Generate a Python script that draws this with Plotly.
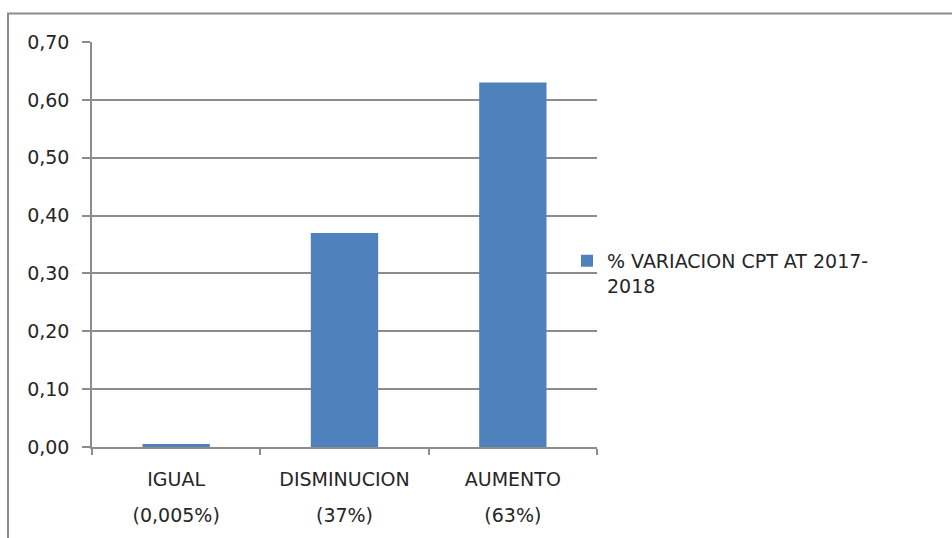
import plotly.graph_objects as go

categories = ["IGUAL", "DISMINUCION", "AUMENTO"]
category_pct = ["(0,005%)", "(37%)", "(63%)"]
values = [0.005, 0.37, 0.63]
series_name = "% VARIACION CPT AT 2017-<br>2018"
y_ticks = [0, 0.1, 0.2, 0.3, 0.4, 0.5, 0.6, 0.7]

FONT = "DejaVu Sans"
FS = 19
TXT = "#262626"
GRID = "#8c8c8c"

fig = go.Figure()
fig.add_trace(go.Bar(
    x=categories, y=values, name=series_name,
    marker=dict(color="#4F81BD", line=dict(width=0)),
    width=0.4, showlegend=True,
))
# helper trace carrying the second line of each category label
fig.add_trace(go.Scatter(
    x=list(range(len(category_pct))), y=[None] * len(category_pct),
    xaxis="x2", showlegend=False, hoverinfo="skip", mode="markers",
))

fig.update_layout(
    width=952, height=538,
    margin=dict(l=92, r=355, t=41.5, b=91.3),
    paper_bgcolor="white", plot_bgcolor="white",
    separators=",.",
    font=dict(family=FONT, size=FS, color=TXT),
    showlegend=True,
    legend=dict(x=(567 - 92) / 505, y=(446.7 - 273) / 405.2, xanchor="left", yanchor="middle",
                font=dict(family=FONT, size=FS, color=TXT), valign="top",
                bgcolor="rgba(0,0,0,0)", itemwidth=30),
    xaxis=dict(
        type="category", categoryarray=categories, showgrid=False,
        showline=True, linecolor=GRID, linewidth=1.5,
        ticks="outside", tickson="boundaries", ticklen=6, tickcolor=GRID, tickwidth=1.5,
        tickfont=dict(family=FONT, size=FS, color=TXT),
        ticklabelstandoff=14, range=[-0.5, 2.5],
    ),
    xaxis2=dict(
        overlaying="x", anchor="y", side="bottom", range=[-0.5, 2.5],
        tickvals=list(range(len(category_pct))), ticktext=category_pct,
        showgrid=False, showline=False, zeroline=False, ticks="",
        tickfont=dict(family=FONT, size=FS, color=TXT),
        ticklabelstandoff=55,
    ),
    yaxis=dict(
        range=[0, 0.7], tickvals=y_ticks, tickformat=".2f",
        showgrid=True, gridcolor=GRID, gridwidth=1.5,
        showline=True, linecolor=GRID, linewidth=1.5,
        ticks="outside", ticklen=8, tickcolor=GRID, tickwidth=1.5,
        tickfont=dict(family=FONT, size=FS, color=TXT),
        ticklabelstandoff=9, zeroline=False,
    ),
    shapes=[dict(type="rect", xref="paper", yref="paper",
                 x0=(8 - 92) / 505, x1=2.0, y0=-2.0, y1=(446.7 - 13) / 405.2,
                 line=dict(color=GRID, width=2), fillcolor="rgba(0,0,0,0)", layer="below")],
)

fig.write_html("out.html")
